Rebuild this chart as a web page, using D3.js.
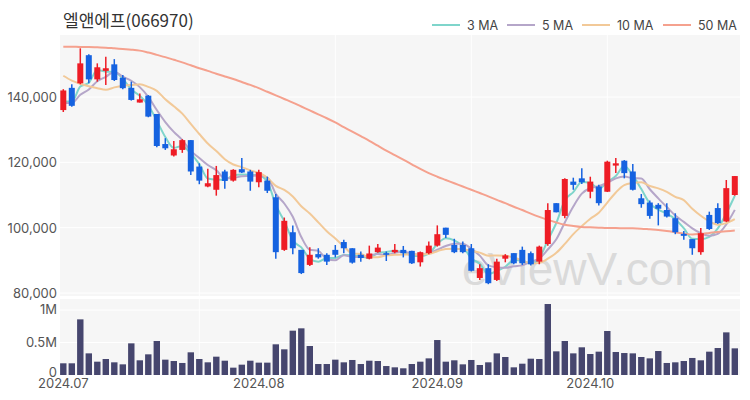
<!DOCTYPE html>
<meta charset="utf-8">
<style>
  body { margin: 0; background: #fff; }
  text { font-family: Inter, "Noto Sans", sans-serif; }
</style>
<script src="https://d3js.org/d3.v7.min.js"></script>
<svg width="750" height="400"></svg>
<script>
// trading days, Jul - Oct 2024
var dates = [
  "2024-07-01","2024-07-02","2024-07-03","2024-07-04","2024-07-05","2024-07-08","2024-07-09","2024-07-10","2024-07-11","2024-07-12",
  "2024-07-15","2024-07-16","2024-07-17","2024-07-18","2024-07-19","2024-07-22","2024-07-23","2024-07-24","2024-07-25","2024-07-26",
  "2024-07-29","2024-07-30","2024-07-31",
  "2024-08-01","2024-08-02","2024-08-05","2024-08-06","2024-08-07","2024-08-08","2024-08-09","2024-08-12","2024-08-13","2024-08-14",
  "2024-08-16","2024-08-19","2024-08-20","2024-08-21","2024-08-22","2024-08-23","2024-08-26","2024-08-27","2024-08-28","2024-08-29","2024-08-30",
  "2024-09-02","2024-09-03","2024-09-04","2024-09-05","2024-09-06","2024-09-09","2024-09-10","2024-09-11","2024-09-12","2024-09-13",
  "2024-09-19","2024-09-20","2024-09-23","2024-09-24","2024-09-25","2024-09-26","2024-09-27","2024-09-30",
  "2024-10-01","2024-10-02","2024-10-04","2024-10-07","2024-10-08","2024-10-10","2024-10-11","2024-10-14","2024-10-15","2024-10-16",
  "2024-10-17","2024-10-18","2024-10-21","2024-10-22","2024-10-23","2024-10-24","2024-10-25","2024-10-28"
];
var opens = [136000,142800,144200,152800,145400,148000,150000,145900,142800,138300,
  140400,134800,125600,122100,123800,126800,118700,112600,111600,117200,
  114400,117900,117200,113900,114400,109300,93200,98600,93200,88600,
  91900,91700,93200,95600,93700,91700,90500,92500,92200,92500,
  93200,92900,89400,92200,94500,100000,94700,94700,93700,84600,
  87600,84000,90500,92200,93200,92200,89600,95000,107500,103600,
  114100,115100,111000,112600,111000,119000,120500,117200,109000,107700,
  107000,105400,102900,98100,96500,92500,103900,106000,101900,110000];
var highs = [142400,143900,154900,153100,150300,152300,151600,146700,144700,141100,
  140600,134800,127400,126500,127100,126800,119700,118000,118900,117700,
  117900,121300,117700,117700,115600,110300,103100,100700,93200,94000,
  93700,92200,94700,96300,93700,92700,94500,95000,92700,95000,
  94400,92900,92700,95800,100700,100000,96600,95800,95000,88800,
  88800,90500,91900,92200,94200,92700,94500,107500,107500,115100,
  115300,118200,115600,113100,120500,121300,120700,119500,110300,108300,
  107500,107500,104400,99000,96500,99900,104900,107500,114600,115800];
var lows = [135400,137000,143900,144200,144700,143700,144900,142400,138900,138300,
  133800,124600,123800,121800,122900,116100,113300,112400,109800,111900,
  114100,116700,111300,112400,110600,90500,92900,91900,85800,88300,
  90500,88600,90900,92200,89000,89600,90300,92300,89800,92200,
  90900,88900,88100,91900,94200,96800,92200,92200,86600,84000,
  82700,83700,89400,88800,88600,88400,88800,94500,104700,102900,
  111600,113400,109000,106800,110900,116700,115100,111400,106100,102700,
  100700,103100,98000,96300,91700,91700,99300,101100,101700,109800];
var closes = [142000,137300,150300,145400,149100,148800,145200,142700,139100,139300,
  134000,125000,124300,124000,126800,117200,114400,113600,116100,114300,
  117700,116900,114100,117000,111300,92500,102100,93700,86100,91700,
  90900,89600,91700,93700,89300,90700,92100,93900,91700,93200,
  92200,89100,92500,94500,98000,97800,92500,92500,86800,87600,
  83000,89600,91500,89100,89100,88800,94200,105400,104700,114900,
  113100,113900,114100,107500,120200,119700,116700,111600,107200,103600,
  105800,103400,98600,97500,93700,98300,99600,101400,112100,115800];
// closes of the last June sessions, so the short averages start where the picture does
var juneCloses = [152000,160000,153000,155000,154000,137600,137600,137300,136500];
var volumes = [180000,180000,856000,333000,205000,246000,195000,164000,487000,226000,
  318000,523000,236000,215000,185000,349000,246000,195000,282000,220000,
  113000,159000,220000,190000,190000,472000,395000,682000,718000,446000,
  169000,169000,236000,195000,231000,169000,220000,215000,138000,118000,
  103000,169000,205000,256000,538000,205000,226000,164000,231000,154000,
  195000,333000,277000,118000,174000,251000,246000,1092000,364000,523000,
  333000,426000,323000,359000,677000,354000,338000,333000,277000,256000,
  369000,185000,195000,215000,262000,226000,359000,415000,656000,410000];
// 50 day average
var ma50 = [155400,155400,155300,155300,155200,155100,154900,154700,154500,154200,
  153600,152900,152200,151400,150600,149700,148800,148000,147100,146300,
  145500,144600,143700,142700,141600,140500,139400,138300,137100,135900,
  134700,133500,132200,130800,129400,128000,126600,125100,123600,122200,
  120800,119400,118000,116700,115600,114600,113600,112600,111600,110600,
  109600,108500,107500,106400,105400,104300,103300,102400,101600,100900,
  100500,100200,100100,100000,99900,99900,99800,99800,99700,99500,
  99300,99000,98600,98200,97900,98100,98400,98700,98900,99100];
var priceTicks = [80000, 100000, 120000, 140000];
var volTicks = [0, 500000, 1000000];
var volTickLabels = ["0", "0.5M", "1M"];
var monthTicks = ["2024-07-01","2024-08-01","2024-09-02","2024-10-01"];
var monthLabels = ["2024.07","2024.08","2024.09","2024.10"];
var maNames = ["3 MA","5 MA","10 MA","50 MA"];
var maColors = ["#7fd5cb","#b5a6c9","#f2c998","#f5a18e"];

var svg = d3.select("svg");
var left = 60, right = 740;
var pTop = 35, pBottom = 296, vTop = 299, vBottom = 375;

var x = d3.scalePoint().domain(dates).range([63.3, 734.8]);
var y = d3.scaleLinear().domain([80000, 140000]).range([293, 97]);
var yv = d3.scaleLinear().domain([0, 1000000]).range([375, 310]);

function movingAvg(n) {
  var all = juneCloses.concat(closes);
  var off = juneCloses.length;
  return closes.map(function(c, i) {
    return d3.mean(all.slice(off + i - n + 1, off + i + 1));
  });
}
var maSeries = [movingAvg(3), movingAvg(5), movingAvg(10), ma50];

// title
svg.append("text").attr("x", 63).attr("y", 27)
  .attr("font-size", "17px").attr("fill", "#333")
  .style("font-family", "'Noto Sans CJK KR', sans-serif")
  .text("엘앤에프(066970)");

// legend
var lx = [432, 507, 582, 663];
maNames.forEach(function(name, k) {
  svg.append("line").attr("x1", lx[k]).attr("x2", lx[k] + 28)
    .attr("y1", 25).attr("y2", 25)
    .attr("stroke", maColors[k]).attr("stroke-width", 2);
  svg.append("text").attr("x", lx[k] + 35).attr("y", 30)
    .attr("font-size", "12.5px").attr("fill", "#444").text(name);
});

// panels
svg.append("rect").attr("x", left).attr("y", pTop).attr("width", right - left)
  .attr("height", pBottom - pTop).attr("fill", "#f6f6f6");
svg.append("rect").attr("x", left).attr("y", vTop).attr("width", right - left)
  .attr("height", vBottom - vTop).attr("fill", "#f6f6f6");

// grid
var grid = svg.append("g").attr("stroke", "#ffffff").attr("stroke-width", 1);
priceTicks.forEach(function(t) {
  grid.append("line").attr("x1", left).attr("x2", right).attr("y1", y(t)).attr("y2", y(t));
});
volTicks.slice(1).forEach(function(t) {
  grid.append("line").attr("x1", left).attr("x2", right).attr("y1", yv(t)).attr("y2", yv(t));
});
[16, 32, 48, 64].forEach(function(i) {
  grid.append("line").attr("x1", x(dates[i])).attr("x2", x(dates[i]))
    .attr("y1", pTop).attr("y2", pBottom);
  grid.append("line").attr("x1", x(dates[i])).attr("x2", x(dates[i]))
    .attr("y1", vTop).attr("y2", vBottom);
});

// watermark
svg.append("text").attr("x", 462).attr("y", 285)
  .attr("font-size", "46px").attr("fill", "#dadada")
  .style("font-family", "'Liberation Sans', Arial, sans-serif")
  .text("eViewV.com");

// axis labels
svg.selectAll(".pt").data(priceTicks).enter().append("text")
  .attr("x", 57).attr("y", function(d) { return y(d) + 5; })
  .attr("text-anchor", "end").attr("font-size", "13px").attr("fill", "#555")
  .text(function(d) { return d3.format(",")(d); });
svg.selectAll(".vt").data(volTicks).enter().append("text")
  .attr("x", 57).attr("y", function(d) { return d == 0 ? yv(d) + 2 : yv(d) + 4; })
  .attr("text-anchor", "end").attr("font-size", "13px").attr("fill", "#555")
  .text(function(d, i) { return volTickLabels[i]; });
svg.selectAll(".mt").data(monthTicks).enter().append("text")
  .attr("x", function(d) { return x(d); }).attr("y", 388)
  .attr("text-anchor", "middle").attr("font-size", "13px").attr("fill", "#555")
  .text(function(d, i) { return monthLabels[i]; });

// moving averages
var line = d3.line().x(function(d, i) { return x(dates[i]); }).y(function(d) { return y(d); })
  .curve(d3.curveMonotoneX);
maSeries.forEach(function(s, k) {
  svg.append("path").datum(s).attr("d", line).attr("fill", "none")
    .attr("stroke", maColors[k]).attr("stroke-width", 2);
});

// candles
var candles = svg.append("g").selectAll("g").data(dates).enter().append("g");
candles.append("line")
  .attr("x1", function(d) { return x(d); }).attr("x2", function(d) { return x(d); })
  .attr("y1", function(d, i) { return y(highs[i]); })
  .attr("y2", function(d, i) { return y(lows[i]); })
  .attr("stroke", function(d, i) { return closes[i] >= opens[i] ? "#ee1c25" : "#1562e0"; })
  .attr("stroke-width", 1.5);
candles.append("rect")
  .attr("x", function(d) { return x(d) - 3; }).attr("width", 6)
  .attr("y", function(d, i) { return y(Math.max(opens[i], closes[i])); })
  .attr("height", function(d, i) { return Math.max(1.5, Math.abs(y(opens[i]) - y(closes[i]))); })
  .attr("fill", function(d, i) { return closes[i] >= opens[i] ? "#ee1c25" : "#1562e0"; });

// volume
svg.append("g").selectAll("rect").data(volumes).enter().append("rect")
  .attr("x", function(d, i) { return x(dates[i]) - 3.2; }).attr("width", 6.4)
  .attr("y", function(d) { return yv(d); })
  .attr("height", function(d) { return yv(0) - yv(d); })
  .attr("fill", "#46466e");
</script>
